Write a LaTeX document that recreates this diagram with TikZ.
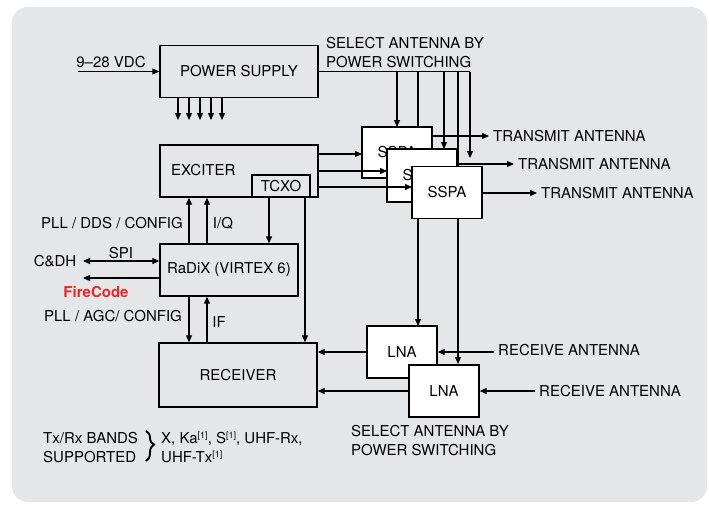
\documentclass[tikz,border=0pt]{standalone}
\usepackage{fontspec}
\setmainfont{TeX Gyre Heros}
\usetikzlibrary{arrows.meta,calc,decorations.pathreplacing}
\definecolor{panel}{HTML}{E5E6E8}
\definecolor{firered}{HTML}{E8262B}
\newcommand\supone{\raisebox{5pt}{\fontsize{9}{9}\selectfont[1]}}
\begin{document}
\begin{tikzpicture}[x=1pt,y=-1pt,
  font=\fontsize{15}{19}\selectfont,
  box/.style={draw,line width=1.4pt,inner sep=0pt},
  wbox/.style={box,fill=white},
  lbl/.style={inner sep=0pt},
  ln/.style={line width=1.1pt},
  arr/.style={line width=1.1pt,-{Triangle[length=7pt,width=6pt]}},
  dblarr/.style={line width=1.1pt,{Triangle[length=7pt,width=6pt]}-{Triangle[length=7pt,width=6pt]}}]
\useasboundingbox (0,0) rectangle (709,504);
\fill[white] (0,0) rectangle (709,504);
\fill[panel,rounded corners=16pt] (12,7) rectangle (707,502);

% main blocks
\node[box,minimum width=158pt,minimum height=52pt] (ps) at (239,71.5) {POWER SUPPLY};
\node[box,minimum width=158pt,minimum height=52pt] (exc) at (239,171) {};
\node[lbl,anchor=west] (exclbl) at (171,170) {EXCITER};
\node[box,minimum width=58pt,minimum height=22pt] (tcxo) at (281,186) {TCXO};
\node[box,minimum width=138pt,minimum height=52pt] (rad) at (229,270) {RaDiX (VIRTEX 6)};
\node[box,minimum width=158pt,minimum height=64pt] (rec) at (238,375) {RECEIVER};

% labels
\node[lbl] (vdc) at (111,62) {9–28 VDC};
\coordinate (vin) at (78,71.5);
\draw[arr] (vin) -- (ps.west);
\foreach \x in {178,189,200,211,222} \draw[arr] (ps.south -| \x,0) -- (\x,120);

\node[lbl,anchor=west,align=left] (seltop) at (326,52.5) {SELECT ANTENNA BY\\POWER SWITCHING};
\node[lbl] (pdc) at (112,223) {PLL / DDS / CONFIG};
\node[lbl] (iq) at (223,223) {I/Q};
\node[lbl] (spi) at (121,253) {SPI};
\node[lbl] (cdh) at (55,261) {C\&DH};
\node[lbl,text=firered,font=\fontsize{15}{19}\selectfont\bfseries] (fc) at (96,292) {FireCode};
\node[lbl] (pac) at (113,316) {PLL / AGC/ CONFIG};
\node[lbl] (iflbl) at (219,322) {IF};

\draw[arr] (rad.north -| 189,0) -- (exc.south -| 189,0);
\draw[arr] (rad.north -| 207,0) -- (exc.south -| 207,0);
\draw[arr] (tcxo.south -| 269,0) -- (rad.north -| 269,0);
\draw[arr] (tcxo.south -| 305,0) -- (rec.north -| 305,0);
\draw[arr] (rad.south -| 189,0) -- (rec.north -| 189,0);
\draw[arr] (rec.north -| 207,0) -- (rad.south -| 207,0);

\coordinate (c1) at (83,261);
\coordinate (c2) at (83,278);
\draw[dblarr] (c1) -- (rad.west |- c1);
\draw[arr] (rad.west |- c2) -- (c2);

% power switching taps
\coordinate (t1) at (397,71.5);
\coordinate (t2) at (418,71.5);
\coordinate (t3) at (444,71.5);
\coordinate (t4) at (458,71.5);
\coordinate (t5) at (470,71.5);
\coordinate (t5e) at (470,158);
\draw[ln] (ps.east) -- (t5);

\path (397,152.5) coordinate (s1c) (422,175.5) coordinate (s2c) (447,192.5) coordinate (s3c);
\draw[arr] (t2) -- (t2 |- 0,326);
\draw[arr] (t4) -- (t4 |- 0,364);
\draw[arr] (t1) -- (t1 |- 0,127);
\draw[arr] (t3) -- (t3 |- 0,149);
\draw[arr] (t5) -- (t5e);

\draw[arr] (exc.east |- 0,154) -- (362,154);
\node[wbox,minimum width=70pt,minimum height=51pt] (s1) at (s1c) {SSPA};
\draw[arr] (exc.east |- 0,171) -- (387,171);
\node[wbox,minimum width=70pt,minimum height=53pt] (s2) at (s2c) {SSPA};
\draw[arr] (exc.east |- 0,187) -- (412,187);
\node[wbox,minimum width=70pt,minimum height=52pt] (s3) at (s3c) {SSPA};

\node[lbl,anchor=west] (ta1) at (493,136) {TRANSMIT ANTENNA};
\node[lbl,anchor=west] (ta2) at (518,164) {TRANSMIT ANTENNA};
\node[lbl,anchor=west] (ta3) at (541,193) {TRANSMIT ANTENNA};
\draw[arr] (s1.east |- ta1.west) -- ([xshift=-4pt]ta1.west);
\draw[arr] (s2.east |- ta2.west) -- ([xshift=-4pt]ta2.west);
\draw[arr] (s3.east |- ta3.west) -- ([xshift=-4pt]ta3.west);

\node[wbox,minimum width=70pt,minimum height=52pt] (l1) at (402,352) {LNA};
\node[wbox,minimum width=70pt,minimum height=52pt] (l2) at (444,391) {LNA};
\draw[arr] (l1.west) -- (rec.east |- l1.west);
\draw[arr] (l2.west) -- (rec.east |- l2.west);

\node[lbl,anchor=west] (ra1) at (498,350) {RECEIVE ANTENNA};
\node[lbl,anchor=west] (ra2) at (539,391) {RECEIVE ANTENNA};
\coordinate (r1s) at (494,352);
\coordinate (r2s) at (535,391);
\draw[arr] (r1s) -- (l1.east |- r1s);
\draw[arr] (r2s) -- (l2.east |- r2s);

\node[lbl,anchor=west,align=left] (selbot) at (351,441) {SELECT ANTENNA BY\\POWER SWITCHING};

% bands
\node[lbl,anchor=west,align=left] (bands) at (43,447.5) {Tx/Rx BANDS\\SUPPORTED};
\draw[decorate,decoration={brace,amplitude=8pt,aspect=0.45},line width=1.9pt] (146,431) -- (146,461);
\node[lbl,anchor=west,align=left] (bandval) at (161,447.5) {X, Ka\supone, S\supone, UHF-Rx,\\UHF-Tx\supone};
\end{tikzpicture}
\end{document}
